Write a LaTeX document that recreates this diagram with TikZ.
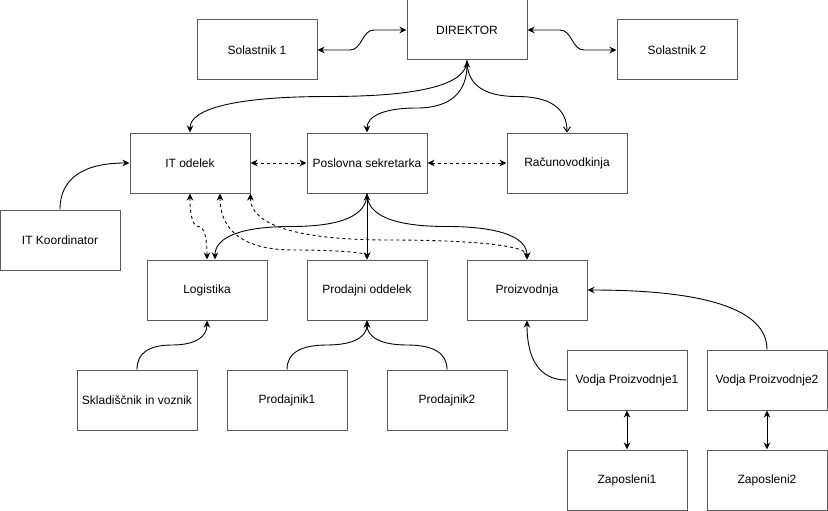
\documentclass[tikz,border=0pt]{standalone}
\usepackage{fontspec}
\setmainfont{Liberation Sans}
\usetikzlibrary{arrows.meta,calc}
\definecolor{boxline}{RGB}{90,90,90}
\begin{document}
\begin{tikzpicture}[x=1pt,y=-1pt,
  box/.style={draw=boxline,line width=1pt,minimum width=120pt,minimum height=60pt,inner sep=0pt,
    font=\fontsize{12}{14}\selectfont},
  con/.style={line width=0.9pt,black},
  ar/.style={con,-{Stealth[length=7pt,width=6.5pt,inset=2.2pt]}},
  bi/.style={con,{Stealth[length=7pt,width=6.5pt,inset=2.2pt]}-{Stealth[length=7pt,width=6.5pt,inset=2.2pt]}},
  openar/.style={con,-{Straight Barb[length=5pt,width=7pt]}},
  dsh/.style={dash pattern=on 3pt off 3pt},
  qc/.style={to path={.. controls ($(\tikztostart)!0.6667!#1$) and ($(\tikztotarget)!0.6667!#1$) .. (\tikztotarget)}}
]
\useasboundingbox (0,0) rectangle (828,511);
\fill[white] (0,0) rectangle (828,511);

\node[box] (sol1) at (257,50) {Solastnik 1};
\node[box] (dir) at (467,30) {DIREKTOR};
\node[box] (sol2) at (677,50) {Solastnik 2};
\node[box] (it) at (190,163) {IT odelek};
\node[box] (posl) at (367,163) {Poslovna sekretarka};
\node[box] (rac) at (567,163) {Računovodkinja};
\node[box] (itk) at (60,240) {IT Koordinator};
\node[box] (log) at (207,290) {Logistika};
\node[box] (prod) at (367,290) {Prodajni oddelek};
\node[box] (proiz) at (527,290) {Proizvodnja};
\node[box] (skl) at (137,400) {Skladiščnik in voznik};
\node[box] (pr1) at (287,400) {Prodajnik1};
\node[box] (pr2) at (447,400) {Prodajnik2};
\node[box] (vp1) at (627,380) {Vodja Proizvodnje1};
\node[box] (vp2) at (767,380) {Vodja Proizvodnje2};
\node[box] (zap1) at (627,480) {Zaposleni1};
\node[box] (zap2) at (767,480) {Zaposleni2};

% top row
\draw[bi] (sol1.east) -- (350,50) .. controls (362,50) and (362,30) .. (374,30) -- (dir.west);
\draw[bi] (dir.east) -- (560,30) .. controls (572,30) and (572,50) .. (584,50) -- (sol2.west);

% director down
\draw[ar] (dir.south) to[qc={(467,96.5)}] (328.5,96.5) to[qc={(190,96.5)}] (it.north);
\draw[bi] (dir.south) to[qc={(467,108)}] (417,108) to[qc={(367,108)}] (posl.north);
\draw[openar] (dir.south) to[qc={(467,96.5)}] (517,96.5) to[qc={(567,96.5)}] (rac.north);

% second row dashed
\draw[bi,dsh] (it.east) -- (posl.west);
\draw[bi,dsh] (posl.east) -- (rac.west);

% IT Koordinator
\draw[ar] (itk.north) to[qc={(60,163)}] (it.west);

% Poslovna down
\draw[ar] (posl.south) to[qc={(367,226.5)}] (291,226.5) to[qc={(215,226.5)}] ([xshift=8pt]log.north);
\draw[bi] (posl.south) -- (prod.north);
\draw[ar] (posl.south) to[qc={(367,226.5)}] (447,226.5) to[qc={(527,226.5)}] (proiz.north);

% IT dashed down
\draw[bi,dsh] (it.south) to[qc={(190,226.5)}] (198.5,226.5) to[qc={(207,226.5)}] (log.north);
\draw[bi,dsh] ([xshift=30pt]it.south) to[qc={(220,250)}] (293.5,250) to[qc={(367,250)}] (prod.north);
\draw[bi,dsh] (it.south east) to[qc={(250,240)}] (388.5,240) to[qc={(527,240)}] (proiz.north);

% bottom
\draw[ar] (skl.north) to[qc={(137,345)}] (172,345) to[qc={(207,345)}] (log.south);
\draw[ar] (pr1.north) to[qc={(287,345)}] (327,345) to[qc={(367,345)}] (prod.south);
\draw[ar] (pr2.north) to[qc={(447,345)}] (407,345) to[qc={(367,345)}] (prod.south);
\draw[ar] (vp1.west) to[qc={(527,380)}] (proiz.south);
\draw[ar] (vp2.north) to[qc={(767,290)}] (proiz.east);
\draw[bi] (vp1.south) -- (zap1.north);
\draw[bi] (vp2.south) -- (zap2.north);
\end{tikzpicture}
\end{document}
